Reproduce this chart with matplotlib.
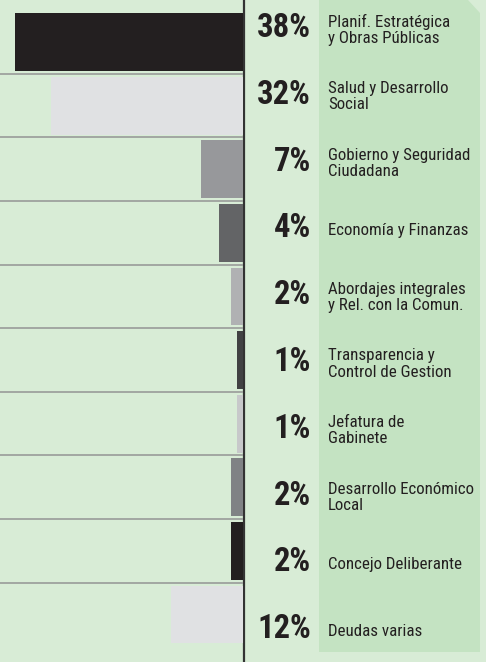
import matplotlib
matplotlib.use('Agg')
import matplotlib.pyplot as plt
from matplotlib import font_manager
from matplotlib.patches import Polygon

# data
areas = ['Planif. Estratégica\ny Obras Públicas', 'Salud y Desarrollo\nSocial',
         'Gobierno y Seguridad\nCiudadana', 'Economía y Finanzas',
         'Abordajes integrales\ny Rel. con la Comun.', 'Transparencia y\nControl de Gestion',
         'Jefatura de\nGabinete', 'Desarrollo Económico\nLocal', 'Concejo Deliberante',
         'Deudas varias']
shares = [38, 32, 7, 4, 2, 1, 1, 2, 2, 12]
bar_colors = ['#231f20', '#e0e1e3', '#97989b', '#636466', '#b0b1b3',
              '#414143', '#c7c8ca', '#808285', '#231f20', '#e0e1e3']

# pick a condensed font if there is one
entries = font_manager.fontManager.ttflist
names = {f.name for f in entries}
fam, stretch, pct_size, lab_size = 'DejaVu Sans', 'condensed', 19, 10.6
for cand in ['Liberation Sans Narrow', 'Roboto Condensed', 'Open Sans Condensed',
             'Noto Sans Condensed', 'Arial Narrow']:
    if cand in names:
        fam, stretch, pct_size, lab_size = cand, 'normal', 23.5, 12.2
        break
else:
    for f in entries:
        if f.name in ('Noto Sans', 'Open Sans', 'Roboto') and f.stretch in ('condensed', 'semi-condensed'):
            fam, stretch, pct_size, lab_size = f.name, f.stretch, 22.5, 11.8
            break

W, H = 486, 662
bg = '#d8ecd6'
fig = plt.figure(figsize=(W / 100, H / 100), dpi=100, facecolor=bg)

# background layer in pixel units
axbg = fig.add_axes([0, 0, 1, 1])
axbg.set_xlim(0, W)
axbg.set_ylim(H, 0)
axbg.axis('off')
axbg.add_patch(Polygon([(319, 0), (468, 0), (480, 13), (480, 652), (319, 652)],
                       closed=True, facecolor='#c4e3c2', edgecolor='none'))

# bars, growing to the left from the axis line
top, bottom, right = 10.2, 646.3, 243
ax = fig.add_axes([0, (H - bottom) / H, right / W, (bottom - top) / H])
ax.patch.set_alpha(0)
n = len(shares)
ax.barh(range(n), shares, height=0.91, color=bar_colors, left=0)
ax.set_xlim(right / 6, 0)
ax.set_ylim(n - 0.5, -0.5)
for i in range(n - 1):
    ax.axhline(i + 0.5, color='#9ea19e', lw=1.3)
ax.axis('off')

axbg.plot([244, 244], [0, H], color='#333333', lw=1.6, zorder=5)

# text panel
axt = fig.add_axes([0, 0, 1, 1])
axt.patch.set_alpha(0)
pitch, first = 66.8, 26
axt.set_xlim(0, W)
axt.set_ylim((H - first) / pitch, -first / pitch)
axt.axis('off')
for i, (s, lab) in enumerate(zip(shares, areas)):
    axt.text(311, i + 11 / pitch, f'{s}%', ha='right', va='baseline',
             fontsize=pct_size, fontweight='bold', family=fam, stretch=stretch, color='#231f20')
    axt.text(328, i + 4 / pitch, lab, ha='left', va='center', fontsize=lab_size,
             family=fam, stretch=stretch, color='#231f20', linespacing=1.1)

fig.savefig('out.png', dpi=100, facecolor=bg)
